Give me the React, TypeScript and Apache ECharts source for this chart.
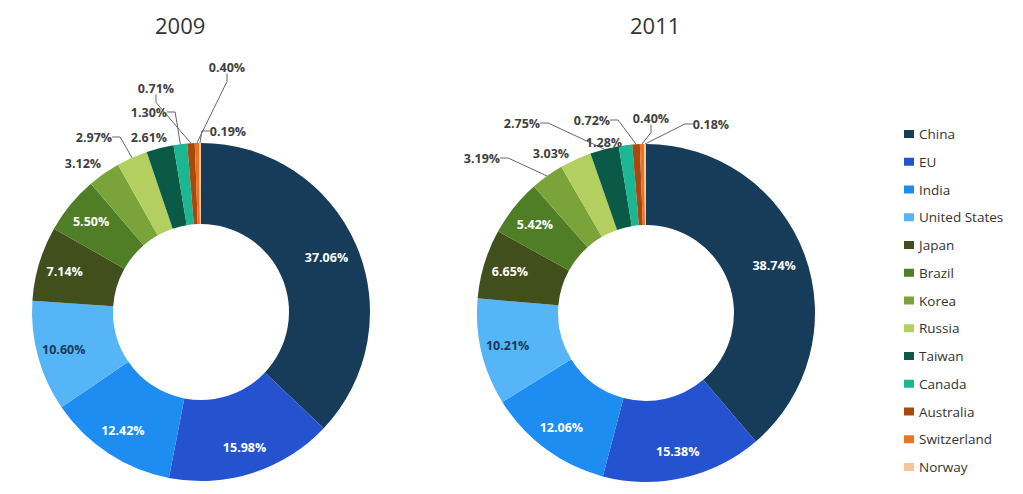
import React, { useEffect, useRef } from "react";
import * as echarts from "echarts";

const countries = ["China", "EU", "India", "United States", "Japan", "Brazil", "Korea", "Russia", "Taiwan", "Canada", "Australia", "Switzerland", "Norway"];
const values2009 = [37.06, 15.98, 12.42, 10.6, 7.14, 5.5, 3.12, 2.97, 2.61, 1.3, 0.71, 0.4, 0.19];
const values2011 = [38.74, 15.38, 12.06, 10.21, 6.65, 5.42, 3.19, 3.03, 2.75, 1.28, 0.72, 0.4, 0.18];
const years = ["2009", "2011"];
const colors = ["#163C5A", "#2553D0", "#1D8DF2", "#55B5F7", "#404F1B", "#4F7E27", "#7AA33A", "#B3CF5F", "#0B5A47", "#1BB792", "#A6480F", "#EC7420", "#F8C59A"];

// label placement (layout, not data)
const outsideLabels: Record<string, Record<string, { pos: [number, number]; line: boolean }>> = {
  "2009": {
    Korea: { pos: [83, 163], line: false },
    Russia: { pos: [94, 137], line: true },
    Taiwan: { pos: [149, 137], line: false },
    Canada: { pos: [149, 112], line: true },
    Australia: { pos: [156, 88], line: true },
    Switzerland: { pos: [227, 67], line: true },
    Norway: { pos: [228, 131], line: true },
  },
  "2011": {
    Korea: { pos: [482, 158], line: true },
    Russia: { pos: [551, 153], line: false },
    Taiwan: { pos: [522, 123], line: true },
    Canada: { pos: [604, 142], line: false },
    Australia: { pos: [592, 120], line: true },
    Switzerland: { pos: [651, 118], line: true },
    Norway: { pos: [711, 124], line: true },
  },
};

const FONT = "'Open Sans', 'Noto Sans', sans-serif";

export default function App() {
  const ref = useRef<HTMLDivElement>(null);
  useEffect(() => {
    if (!ref.current) return;
    const chart = echarts.init(ref.current, undefined, { renderer: "svg" });
    const centers = [[201, 312], [646, 313]];
    const makeSeries = (yi: number, vals: number[]) => {
      const year = years[yi];
      return {
        type: "pie",
        name: year,
        center: centers[yi],
        radius: [88, 169],
        startAngle: 90,
        clockwise: true,
        avoidLabelOverlap: false,
        label: {
          show: true,
          position: "inside",
          color: "#ffffff",
          fontSize: 12.5,
          fontWeight: "bold",
          fontFamily: FONT,
          formatter: (p: any) => p.value.toFixed(2) + "%",
        },
        labelLine: { show: false, length: 10, length2: 8, lineStyle: { color: "#666666", width: 1 } },
        emphasis: { disabled: true },
        itemStyle: { borderWidth: 0 },
        data: countries.map((n, i) => {
          const o = outsideLabels[year][n];
          const item: any = { name: n, value: vals[i], itemStyle: { color: colors[i] } };
          if (o) {
            item.label = { position: "outside", color: "#404040" };
            item.labelLine = { show: o.line };
          } else if (n === "United States") {
            item.label = { color: "#1B3A58" };
          }
          return item;
        }),
        labelLayout: (params: any) => {
          const name = countries[params.dataIndex];
          const o = outsideLabels[year][name];
          if (o) {
            return { x: o.pos[0], y: o.pos[1], align: "center", verticalAlign: "middle" };
          }
          const lay = (chart as any).getModel().getSeriesByIndex(params.seriesIndex).getData().getItemLayout(params.dataIndex);
          const mid = (lay.startAngle + lay.endAngle) / 2;
          const rr = lay.r0 + (lay.r - lay.r0) * (name === "China" ? 0.6 : 0.67);
          return { x: lay.cx + rr * Math.cos(mid), y: lay.cy + rr * Math.sin(mid), align: "center", verticalAlign: "middle" };
        },
      };
    };
    chart.setOption({
      animation: false,
      backgroundColor: "#ffffff",
      title: [
        { text: years[0], left: 150, top: 9, textStyle: { fontSize: 22, fontWeight: "normal", color: "#333333", fontFamily: FONT } },
        { text: years[1], left: 625, top: 9, textStyle: { fontSize: 22, fontWeight: "normal", color: "#333333", fontFamily: FONT } },
      ],
      legend: {
        orient: "vertical",
        left: 899,
        top: 122,
        itemWidth: 10,
        itemHeight: 8,
        itemGap: 13.75,
        icon: "rect",
        data: countries,
        selectedMode: false,
        textStyle: { fontSize: 13.5, color: "#333333", fontFamily: FONT, lineHeight: 14 },
      },
      series: [makeSeries(0, values2009), makeSeries(1, values2011)],
    });
    return () => chart.dispose();
  }, []);
  return <div ref={ref} style={{ position: "fixed", left: 0, top: 0, width: 1023, height: 494 }} />;
}
